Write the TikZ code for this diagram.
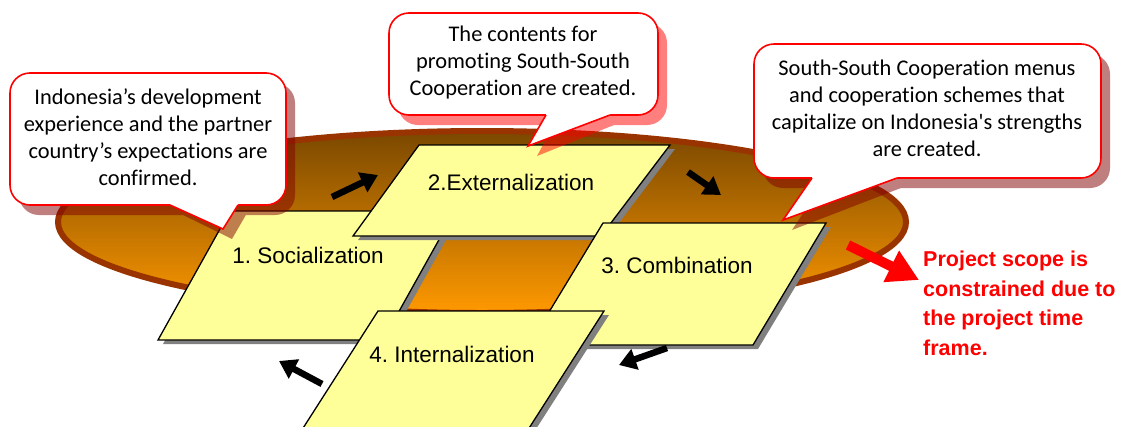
\documentclass[tikz,border=0pt]{standalone}
\usepackage{fontspec}
\setmainfont{Liberation Sans}
\newfontfamily\callfont{Carlito}[Ligatures={TeXOff,NoCommon}]
\usetikzlibrary{arrows.meta}
\definecolor{rimbrown}{RGB}{153,51,0}
\definecolor{darkbrown}{RGB}{122,72,0}
\definecolor{orangefill}{RGB}{255,153,0}
\definecolor{cardyellow}{RGB}{255,255,153}
\definecolor{cardshadow}{RGB}{128,128,128}
\definecolor{notered}{RGB}{255,0,0}
\definecolor{noteshadow}{RGB}{128,0,0}
\frenchspacing

\begin{document}
\begin{tikzpicture}[x=1pt,y=-1pt,
  card/.style={fill=cardyellow, draw=black, line width=1.3pt, line join=miter},
  cardshade/.style={fill=cardshadow},
  cardlabel/.style={font=\fontsize{22.5}{27}\selectfont, inner sep=0pt},
  notebox/.style={fill=white, draw=notered, line width=1.6pt, rounded corners=20pt, inner sep=0pt},
  notetext/.style={font=\callfont\fontsize{22.4}{27}\selectfont, align=center, inner sep=0pt},
  flow/.style={line width=6.5pt, -{Triangle[length=17pt,width=21pt]}},
  redflow/.style={draw=notered, line width=10pt, -{Triangle[length=31pt,width=33pt]}},
]
\useasboundingbox (0,0) rectangle (1123,426);

% disc underneath the four cards
\path[draw=rimbrown, line width=6pt, top color=darkbrown, bottom color=orangefill]
  (482,222) ellipse [x radius=424, y radius=91];

% 1. Socialization
\fill[cardshade, shift={(5,4)}] (230,211) -- (455,211) -- (383,340) -- (158,340) -- cycle;
\draw[card] (230,211) -- (455,211) -- (383,340) -- (158,340) -- cycle;
\node[cardlabel] (soc) at (308,255) {1. Socialization};

% 2. Externalization
\fill[cardshade, shift={(5,4)}] (419,145) -- (670,145) -- (601,236) -- (353,236) -- cycle;
\draw[card] (419,145) -- (670,145) -- (601,236) -- (353,236) -- cycle;
\node[cardlabel] (ext) at (511,182) {2.Externalization};

% 3. Combination
\fill[cardshade, shift={(5,4)}] (603,223) -- (826,223) -- (753,345) -- (529,345) -- cycle;
\draw[card] (603,223) -- (826,223) -- (753,345) -- (529,345) -- cycle;
\node[cardlabel] (com) at (677,265) {3. Combination};

% 4. Internalization
\fill[cardshade, shift={(5,4)}] (378,311) -- (604,311) -- (524,436) -- (298,436) -- cycle;
\draw[card] (378,311) -- (604,311) -- (524,436) -- (298,436) -- cycle;
\node[cardlabel] (int) at (452,354) {4. Internalization};

% cycle arrows
\coordinate (a1s) at (332,197); \coordinate (a1e) at (378,175);
\coordinate (a2s) at (688,172); \coordinate (a2e) at (721,195);
\coordinate (a3s) at (667,348); \coordinate (a3e) at (619,365);
\coordinate (a4s) at (322,384); \coordinate (a4e) at (279,361);
\draw[flow] (a1s) -- (a1e);
\draw[flow] (a2s) -- (a2e);
\draw[flow] (a3s) -- (a3e);
\draw[flow] (a4s) -- (a4e);

% outcome note
\coordinate (rs) at (848,245); \coordinate (re) at (919,280);
\draw[redflow] (rs) -- (re);
\node[anchor=north west, inner sep=0pt, align=left, text=notered,
      font=\bfseries\fontsize{21.5}{29.5}\selectfont] (scope) at (923,251)
  {Project scope is\\constrained due to\\the project time\\frame.};

% callout shadows
\begin{scope}[transparency group, opacity=0.5]
  \fill[noteshadow, rounded corners=20pt] (19,83) rectangle (295,215);
  \fill[noteshadow] (179,213) -- (232,239) -- (247,213) -- cycle;
\end{scope}
\begin{scope}[transparency group, opacity=0.5]
  \fill[notered, rounded corners=20pt] (398,23) rectangle (667,125);
  \fill[notered] (555,123) -- (537,156) -- (619,123) -- cycle;
\end{scope}
\begin{scope}[transparency group, opacity=0.5]
  \fill[noteshadow, rounded corners=20pt] (763,54) rectangle (1110,188);
  \fill[noteshadow] (821,186) -- (792,230) -- (906,186) -- cycle;
\end{scope}

% callout 1
\node[notebox, minimum width=276pt, minimum height=132pt] (n1) at (148,139) {};
\fill[white] (170,201) -- (170,205) -- (223,229) -- (238,205) -- (238,201) -- cycle;
\draw[notered, line width=1.6pt, line join=miter] (170,205) -- (223,229) -- (238,205);
\node[notetext] (t1) at (148,137)
  {Indonesia’s development\\experience and the partner\\country’s expectations are\\confirmed.};

% callout 2
\node[notebox, minimum width=269pt, minimum height=102pt] (n2) at (523.5,64) {};
\fill[white] (546,111) -- (546,115) -- (528,146) -- (610,115) -- (610,111) -- cycle;
\draw[notered, line width=1.6pt, line join=miter] (546,115) -- (528,146) -- (610,115);
\node[notetext] (t2) at (523,63)
  {The contents for\\promoting South-South\\Cooperation are created.};

% callout 3
\node[notebox, minimum width=347pt, minimum height=134pt] (n3) at (927.5,111) {};
\fill[white] (812,174) -- (812,178) -- (783,220) -- (897,178) -- (897,174) -- cycle;
\draw[notered, line width=1.6pt, line join=miter] (812,178) -- (783,220) -- (897,178);
\node[notetext] (t3) at (927,108)
  {South-South Cooperation menus\\and cooperation schemes that\\capitalize on Indonesia's strengths\\are created.};
\end{tikzpicture}
\end{document}
